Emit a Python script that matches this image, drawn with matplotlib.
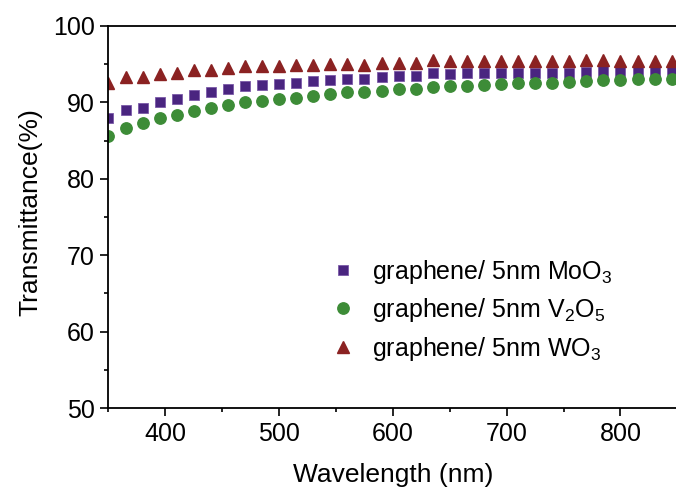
import matplotlib
matplotlib.use('Agg')
import matplotlib.pyplot as plt
from matplotlib.ticker import MultipleLocator

# wavelength (nm) and transmittance (%)
wavelength = [350, 365, 380, 395, 410, 425, 440, 455, 470, 485, 500, 515,
              530, 545, 560, 575, 590, 605, 620, 635, 650, 665, 680, 695,
              710, 725, 740, 755, 770, 785, 800, 815, 830, 845]
moo3 = [87.9, 89.0, 89.3, 90.0, 90.4, 91.0, 91.4, 91.7, 92.1, 92.3, 92.4, 92.6,
        92.8, 92.9, 93.0, 93.0, 93.3, 93.4, 93.5, 93.8, 93.7, 93.8, 93.8, 93.9,
        93.9, 93.9, 93.9, 93.9, 94.0, 94.1, 94.1, 94.1, 94.1, 94.2]
v2o5 = [85.6, 86.6, 87.3, 87.9, 88.4, 88.9, 89.3, 89.7, 90.0, 90.2, 90.4, 90.6,
        90.9, 91.1, 91.3, 91.4, 91.5, 91.7, 91.8, 92.0, 92.1, 92.2, 92.3, 92.4,
        92.5, 92.6, 92.6, 92.7, 92.8, 92.9, 92.9, 93.0, 93.0, 93.1]
wo3 = [92.6, 93.3, 93.3, 93.7, 93.8, 94.2, 94.3, 94.5, 94.8, 94.8, 94.7, 94.9,
       94.9, 95.0, 95.0, 94.9, 95.2, 95.2, 95.2, 95.5, 95.4, 95.4, 95.4, 95.4,
       95.4, 95.4, 95.4, 95.4, 95.5, 95.5, 95.4, 95.4, 95.4, 95.4]
labels = ['graphene/ 5nm MoO$_3$', 'graphene/ 5nm V$_2$O$_5$', 'graphene/ 5nm WO$_3$']

plt.rcParams['font.family'] = ['Liberation Sans', 'DejaVu Sans']
plt.rcParams['mathtext.fontset'] = 'custom'
plt.rcParams['mathtext.rm'] = 'Liberation Sans'
plt.rcParams['mathtext.it'] = 'Liberation Sans:italic'

fig = plt.figure(figsize=(6.76, 4.92), dpi=100)
ax = fig.add_axes([0.1605, 0.1707, 0.8415, 0.7765])

ax.plot(wavelength, moo3, 's', color='#4a2580', mec='#7b5aa8', mew=0.6, ms=7.3, label=labels[0])
ax.plot(wavelength, v2o5, 'o', color='#3d8c37', mec='#3d8c37', ms=8.2, label=labels[1])
ax.plot(wavelength, wo3, '^', color='#8b2222', mec='#8b2222', ms=9.3, label=labels[2])

ax.set_xlim(350, 850)
ax.set_ylim(50, 100)
ax.xaxis.set_major_locator(MultipleLocator(100))
ax.xaxis.set_minor_locator(MultipleLocator(50))
ax.yaxis.set_major_locator(MultipleLocator(10))
ax.yaxis.set_minor_locator(MultipleLocator(5))
ax.set_xticks([400, 500, 600, 700, 800])
ax.tick_params(which='major', direction='out', length=5.8, width=1.2, labelsize=18, pad=4)
ax.tick_params(which='minor', direction='out', length=3, width=1.2)
ax.tick_params(top=False, right=False)
for s in ax.spines.values():
    s.set_linewidth(1.3)
ax.spines['right'].set_visible(False)

ax.set_xlabel('Wavelength (nm)', fontsize=19)
ax.set_ylabel('Transmittance(%)', fontsize=19)
ax.xaxis.set_label_coords(0.5, -0.143)
ax.yaxis.set_label_coords(-0.117, 0.513)

ax.legend(loc='center left', bbox_to_anchor=(0.39, 0.2565), frameon=False,
          fontsize=18, handlelength=1.0, handletextpad=0.65, labelspacing=0.42,
          borderaxespad=0, borderpad=0)

plt.savefig('out.png', dpi=100)
plt.close(fig)
